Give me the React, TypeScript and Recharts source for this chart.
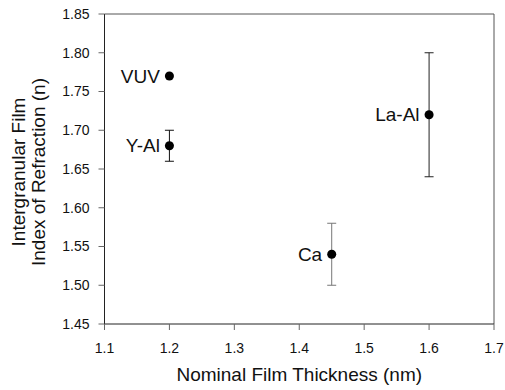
import React from 'react';
import {
  ScatterChart,
  Scatter,
  XAxis,
  YAxis,
  ZAxis,
  ErrorBar,
  LabelList,
  ReferenceLine,
} from 'recharts';

const categories = ['VUV', 'Y-Al', 'Ca', 'La-Al'];
const thickness = [1.2, 1.2, 1.45, 1.6];
const refraction = [1.77, 1.68, 1.54, 1.72];
const errors = [0, 0.02, 0.04, 0.08];
const errorColors = ['#000000', '#111111', '#777777', '#222222'];

const xTicks = [1.1, 1.2, 1.3, 1.4, 1.5, 1.6, 1.7];
const yTicks = [1.45, 1.5, 1.55, 1.6, 1.65, 1.7, 1.75, 1.8, 1.85];

const FONT = '"Liberation Sans", Arial, sans-serif';

const points = categories.map((name, i) => ({
  name,
  x: thickness[i],
  y: refraction[i],
  err: errors[i],
}));

const YTitle = (props: any) => {
  const vb = props.viewBox || { x: 0, y: 0, width: 0, height: 0 };
  const cy = vb.y + vb.height / 2 + 3;
  const x1 = 18;
  const x2 = 38.5;
  return (
    <g>
      <text
        x={x1}
        y={cy}
        transform={`rotate(-90 ${x1} ${cy})`}
        textAnchor="middle"
        dominantBaseline="central"
        fontFamily={FONT}
        fontSize={19}
        fill="#111"
      >
        Intergranular Film
      </text>
      <text
        x={x2}
        y={cy}
        transform={`rotate(-90 ${x2} ${cy})`}
        textAnchor="middle"
        dominantBaseline="central"
        fontFamily={FONT}
        fontSize={19}
        fill="#111"
      >
        Index of Refraction (n)
      </text>
    </g>
  );
};

export default function App() {
  return (
    <div style={{ position: 'absolute', left: 0, top: 0, background: '#fff' }}>
      <ScatterChart
        width={505}
        height={390}
        margin={{ top: 14, right: 11, left: 0, bottom: 0 }}
      >
        <XAxis
          type="number"
          dataKey="x"
          domain={[1.1, 1.7]}
          ticks={xTicks}
          tickFormatter={(v: number) => v.toFixed(1)}
          height={66}
          stroke="#222"
          tickLine={{ stroke: '#666' }}
          tickSize={6}
          tick={{ fill: '#111', fontSize: 14, fontFamily: FONT }}
          tickMargin={13}
          label={{
            value: 'Nominal Film Thickness (nm)',
            position: 'insideBottom',
            offset: 9,
            fill: '#111',
            fontSize: 19,
            fontFamily: FONT,
          }}
        />
        <YAxis
          type="number"
          dataKey="y"
          domain={[1.45, 1.85]}
          ticks={yTicks}
          tickFormatter={(v: number) => v.toFixed(2)}
          width={104.5}
          stroke="#222"
          tickLine={{ stroke: '#666' }}
          tickSize={6}
          tickMargin={9}
          tick={{ fill: '#111', fontSize: 14, fontFamily: FONT }}
          label={<YTitle />}
        />
        <ZAxis range={[80, 80]} />
        <ReferenceLine y={1.85} stroke="#555" />
        <ReferenceLine x={1.7} stroke="#555" />
        {points.map((p, i) => (
          <Scatter
            key={p.name}
            data={[p]}
            fill="#000"
            isAnimationActive={false}
          >
            {p.err > 0 && (
              <ErrorBar
                dataKey="err"
                direction="y"
                width={4.5}
                stroke={errorColors[i]}
                strokeWidth={1}
              />
            )}
            <LabelList
              dataKey="name"
              position="left"
              offset={5}
              fill="#111"
              fontSize={19}
              fontFamily={FONT}
            />
          </Scatter>
        ))}
      </ScatterChart>
    </div>
  );
}
